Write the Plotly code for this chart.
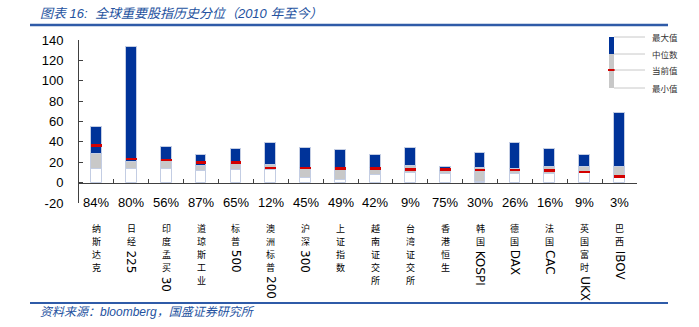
import plotly.graph_objects as go

names = ["纳斯达克", "日经225", "印度孟买30", "道琼斯工业", "标普500", "澳洲标普200", "沪深300", "上证指数",
         "越南证交所", "台湾证交所", "香港恒生", "韩国KOSPI", "德国DAX", "法国CAC", "英国富时UKX", "巴西IBOV"]
pct_labels = ["84%", "80%", "56%", "87%", "65%", "12%", "45%", "49%", "42%", "9%", "75%", "30%", "26%", "16%", "9%", "3%"]
max_vals = [54.3, 133.2, 34.8, 26.8, 32.9, 38.8, 33.6, 31.8, 27.2, 34.4, 15.3, 29.0, 38.7, 32.9, 27.4, 68.8]
median_vals = [28.2, 19.8, 20.8, 16.6, 18.1, 16.9, 14.7, 14.7, 14.7, 16.6, 11.8, 14.3, 13.5, 15.2, 14.9, 15.3]
current_vals = [36.6, 23.0, 22.1, 19.8, 19.8, 14.3, 14.1, 13.9, 13.8, 13.0, 12.7, 12.6, 12.3, 11.7, 10.7, 5.8]
min_vals = [13.5, 13.5, 13.7, 11.7, 12.0, 12.3, 4.6, 2.3, 7.8, 9.4, 8.1, 0.4, 8.4, 8.5, 9.1, 4.3]
y_ticks = [-20, 0, 20, 40, 60, 80, 100, 120, 140]

W, H = 699, 327
L, R, T, B = 79, 637, 40, 203  # plot area in px
Y0, Y1 = -20, 140

def px2x(px):
    return (px - L) / (R - L)

def py2y(py):
    return (B - py) / (B - T)

BLUE = "#003399"
GRAY = "#c8c8c8"
RED = "#d40000"
EDGE = "#c3cde3"
BW = 0.31
x = list(range(len(names)))

fig = go.Figure()
fig.add_trace(go.Bar(x=x, y=min_vals, base=[0] * len(x), width=BW,
                     marker=dict(color="white", line=dict(color=EDGE, width=1))))
fig.add_trace(go.Bar(x=x, y=[m - n for m, n in zip(median_vals, min_vals)], base=min_vals, width=BW,
                     marker=dict(color=GRAY, line=dict(color=EDGE, width=1))))
fig.add_trace(go.Bar(x=x, y=[a - m for a, m in zip(max_vals, median_vals)], base=median_vals, width=BW,
                     marker=dict(color=BLUE, line=dict(color=EDGE, width=1))))
fig.add_trace(go.Bar(x=x, y=[2.4] * len(x), base=[c - 1.2 for c in current_vals], width=BW,
                     marker=dict(color=RED, line=dict(width=0))))

annotations = []
for i, p in enumerate(pct_labels):
    annotations.append(dict(x=i, y=0, xref="x", yref="paper", text=p, showarrow=False,
                            yanchor="middle", xanchor="center", yshift=1,
                            font=dict(family="Liberation Sans, Arial", size=13, color="#000")))

FS = 9
STEP = 13.1
TOP = 222
for i, nm in enumerate(names):
    cjk = "".join(ch for ch in nm if ord(ch) > 127)
    asc = "".join(ch for ch in nm if ord(ch) <= 127)
    for k, ch in enumerate(cjk):
        annotations.append(dict(x=i, y=py2y(TOP + STEP * k + STEP / 2), xref="x", yref="paper", text=ch,
                                showarrow=False, xanchor="center", yanchor="middle", borderpad=0,
                                font=dict(family="Noto Sans CJK SC", size=FS, color="#000")))
    if asc:
        annotations.append(dict(x=i, y=py2y(TOP + STEP * len(cjk) + 1), xref="x", yref="paper", text=asc,
                                showarrow=False, xanchor="center", yanchor="top", textangle=90, borderpad=0,
                                font=dict(family="DejaVu Sans", size=12, color="#000")))

# title & footer
annotations.append(dict(x=px2x(38), y=py2y(13), xref="paper", yref="paper", xanchor="left", yanchor="middle",
                        showarrow=False, text="<i>图表 16:  全球重要股指历史分位（2010 年至今）</i>",
                        font=dict(family="Liberation Sans, Noto Sans CJK SC", size=13, color="#2452a0")))
annotations.append(dict(x=px2x(38), y=py2y(312), xref="paper", yref="paper", xanchor="left", yanchor="middle",
                        showarrow=False, text="<i>资料来源：bloomberg，国盛证券研究所</i>",
                        font=dict(family="Liberation Sans, Noto Sans CJK SC", size=12, color="#2452a0")))

shapes = [
    dict(type="line", xref="paper", yref="paper", x0=px2x(30), x1=px2x(668), y0=py2y(25), y1=py2y(25),
         line=dict(color="#2f5ba8", width=2.5)),
    dict(type="line", xref="paper", yref="paper", x0=px2x(30), x1=px2x(668), y0=py2y(303), y1=py2y(303),
         line=dict(color="#2f5ba8", width=2)),
]

# legend graphic
lg_l, lg_r = 609, 614
levels = [("最大值", 37), ("中位数", 54), ("当前值", 70), ("最小值", 88)]
shapes.append(dict(type="rect", xref="paper", yref="paper", x0=px2x(lg_l), x1=px2x(lg_r), y0=py2y(54), y1=py2y(37),
                   fillcolor=BLUE, line=dict(width=0)))
shapes.append(dict(type="rect", xref="paper", yref="paper", x0=px2x(lg_l), x1=px2x(lg_r), y0=py2y(88), y1=py2y(54),
                   fillcolor=GRAY, line=dict(width=0)))
shapes.append(dict(type="line", xref="paper", yref="paper", x0=px2x(lg_l - 1), x1=px2x(lg_r + 1), y0=py2y(70), y1=py2y(70),
                   line=dict(color=RED, width=2)))
for lab, py in levels:
    shapes.append(dict(type="line", xref="paper", yref="paper", x0=px2x(lg_r), x1=px2x(645), y0=py2y(py), y1=py2y(py),
                       line=dict(color="#c8c8c8", width=1)))
    annotations.append(dict(x=px2x(650), y=py2y(py), xref="paper", yref="paper", xanchor="left", yanchor="middle",
                            showarrow=False, text=lab,
                            font=dict(family="Noto Sans CJK SC", size=8.5, color="#333")))

fig.update_layout(
    width=W, height=H, margin=dict(l=L, r=W - R, t=T, b=H - B),
    paper_bgcolor="white", plot_bgcolor="white",
    barmode="overlay", showlegend=False, bargap=0,
    xaxis=dict(type="category", range=[-0.5, len(names) - 0.5], anchor="free",
               position=(0 - Y0) / (Y1 - Y0), showline=True, linecolor="#404040", linewidth=1,
               ticks="inside", ticklen=4, tickcolor="#404040", tickson="boundaries",
               showticklabels=False, showgrid=False, zeroline=False),
    yaxis=dict(range=[Y0, Y1], tickvals=y_ticks, ticktext=[str(v) for v in y_ticks],
               showgrid=False, zeroline=False,
               showline=True, linecolor="#404040", linewidth=1, ticks="inside", ticklen=4,
               tickcolor="#404040", ticklabelstandoff=12,
               tickfont=dict(family="Liberation Sans, Arial", size=13, color="#000")),
    annotations=annotations, shapes=shapes,
)

fig.write_html("out.html")
